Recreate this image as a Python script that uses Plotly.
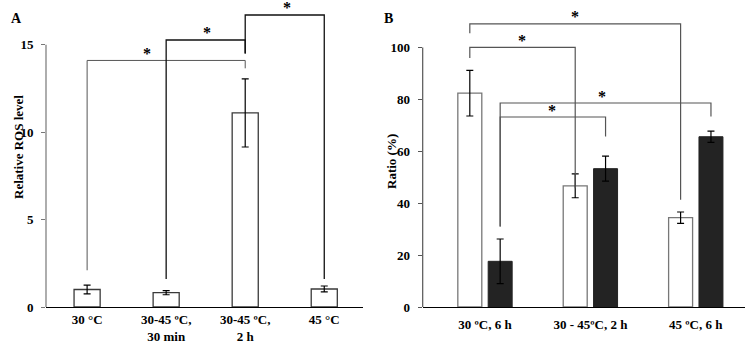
import plotly.graph_objects as go

# ---------------- data ----------------
a_cats = ["30 °C", "30-45 ºC,<br>30 min", "30-45 ºC,<br>2 h", "45 °C"]
a_vals = [1.0, 0.82, 11.1, 1.03]
a_err = [0.25, 0.12, 1.95, 0.17]

b_cats = ["30 ºC, 6 h", "30 - 45ºC, 2 h", "45 ºC, 6 h"]
b_white = [82.4, 46.7, 34.4]
b_white_err = [8.8, 4.6, 2.2]
b_black = [17.6, 53.3, 65.6]
b_black_err = [8.6, 4.8, 2.2]

a_ticks = [0, 5, 10, 15]
b_ticks = [0, 20, 40, 60, 80, 100]

# significance brackets: (left bar, right bar, left leg bottom, right leg bottom, top, star x)
a_brackets = [
    (0, 2, 2.1, 13.65, 14.1, 0.76),
    (1, 2, 1.6, 14.5, 15.27, 1.52),
    (2, 3, 14.5, 1.6, 16.7, 2.53),
]
# for B: bar given as (group, series) with series 0 = white, 1 = black
b_brackets = [
    ((0, 0), (2, 0), 105.5, 41.3, 109.1, 0.854),
    ((0, 0), (1, 0), 95.9, 45.8, 100.0, 0.348),
    ((0, 1), (2, 1), 31.0, 73.4, 78.6, 1.107),
    ((0, 1), (1, 1), 31.0, 65.7, 73.2, 0.639),
]

# ---------------- layout helpers ----------------
W, H = 750, 345
T, B = 1, 38
PLOT_BOTTOM = H - B
PLOT_H = H - T - B

def px(x):
    return x / W

def py(y):
    return (PLOT_BOTTOM - y) / PLOT_H

FONT = "Liberation Serif"
BARGAP = 0.424
GROUPGAP = 0.21
d = (1 - BARGAP) / 4  # offset of each bar from group center

fig = go.Figure()

a_x = list(range(len(a_cats)))
fig.add_trace(go.Bar(
    x=a_x, y=a_vals, width=0.33,
    marker=dict(color="white", line=dict(color="#3a3a3a", width=1.3)),
    error_y=dict(type="data", array=a_err, color="black", thickness=1.2, width=3.5),
    xaxis="x", yaxis="y", showlegend=False,
))

b_x = list(range(len(b_cats)))
fig.add_trace(go.Bar(
    x=b_x, y=b_white, name="white",
    marker=dict(color="white", line=dict(color="#777777", width=1.3)),
    error_y=dict(type="data", array=b_white_err, color="black", thickness=1.2, width=3.5),
    xaxis="x2", yaxis="y2", showlegend=False,
))
fig.add_trace(go.Bar(
    x=b_x, y=b_black, name="black",
    marker=dict(color="#232323", line=dict(color="#232323", width=1)),
    error_y=dict(type="data", array=b_black_err, color="black", thickness=1.2, width=3.5),
    xaxis="x2", yaxis="y2", showlegend=False,
))

shapes = []
annotations = []

def bracket(xref, yref, x0, x1, yb0, yb1, top, color, width):
    return dict(type="path", xref=xref, yref=yref,
                path=f"M {x0},{yb0} L {x0},{top} L {x1},{top} L {x1},{yb1}",
                line=dict(color=color, width=width))

STAR_FONT = dict(family=FONT, size=16, color="black", weight="bold")

a_colors = [("#555555", 1.0), ("#111111", 1.3), ("#111111", 1.3)]
for (i, j, yb0, yb1, top, sx), (c, w) in zip(a_brackets, a_colors):
    shapes.append(bracket("x", "y", a_x[i], a_x[j], yb0, yb1, top, c, w))
    annotations.append(dict(x=sx, y=top, xref="x", yref="y", text="*",
                            showarrow=False, yanchor="middle", yshift=7,
                            font=STAR_FONT))

for (g0, s0), (g1, s1), yb0, yb1, top, sx in b_brackets:
    x0 = b_x[g0] + (d if s0 else -d)
    x1 = b_x[g1] + (d if s1 else -d)
    shapes.append(bracket("x2", "y2", x0, x1, yb0, yb1, top, "#555555", 1.2))
    annotations.append(dict(x=sx, y=top, xref="x2", yref="y2", text="*",
                            showarrow=False, yanchor="middle", yshift=7,
                            font=STAR_FONT))

# partial y-axis lines (stop at the top tick)
shapes.append(dict(type="line", xref="x domain", yref="y", x0=0, x1=0,
                   y0=0, y1=a_ticks[-1], line=dict(color="#777777", width=1.2)))
shapes.append(dict(type="line", xref="x2 domain", yref="y2", x0=0, x1=0,
                   y0=0, y1=b_ticks[-1], line=dict(color="#555555", width=1.2)))

BOLD = dict(family=FONT, color="black", weight="bold")
# panel letters and axis titles
annotations += [
    dict(x=px(8.5), y=py(9), xref="paper", yref="paper", text="A",
         showarrow=False, font=dict(size=14, **BOLD)),
    dict(x=px(388), y=py(9), xref="paper", yref="paper", text="B",
         showarrow=False, font=dict(size=14, **BOLD)),
    dict(x=px(8.5), y=py(147), xref="paper", yref="paper", text="Relative ROS level",
         textangle=-90, showarrow=False, font=dict(size=13, **BOLD)),
    dict(x=px(392), y=py(161), xref="paper", yref="paper", text="Ratio (%)",
         textangle=-90, showarrow=False, font=dict(size=13, **BOLD)),
]

tickfont = dict(size=13, **BOLD)
fig.update_layout(
    width=W, height=H,
    margin=dict(l=0, r=0, t=T, b=B),
    paper_bgcolor="white", plot_bgcolor="white",
    barmode="group", bargap=BARGAP, bargroupgap=GROUPGAP,
    shapes=shapes, annotations=annotations,
    xaxis=dict(domain=[px(46), px(363)], range=[-0.52, 3.49],
               tickvals=a_x, ticktext=a_cats,
               showline=True, linecolor="black", linewidth=1.3, ticks="",
               showgrid=False, zeroline=False, tickfont=tickfont, ticklabelstandoff=0),
    yaxis=dict(range=[0, 17.5], tickvals=a_ticks,
               showline=False, ticks="outside", ticklen=4, tickcolor="#777777",
               showgrid=False, zeroline=False, tickfont=tickfont, ticklabelstandoff=5),
    xaxis2=dict(domain=[px(422.7), px(745)], range=[-0.591, 2.467],
                tickvals=b_x, ticktext=b_cats,
                showline=True, linecolor="black", linewidth=1.3, ticks="",
                showgrid=False, zeroline=False, tickfont=tickfont, ticklabelstandoff=5),
    yaxis2=dict(range=[0, 117.9], tickvals=b_ticks,
                anchor="x2", showline=False, ticks="outside", ticklen=4, tickcolor="#555555",
                showgrid=False, zeroline=False, tickfont=tickfont, ticklabelstandoff=5),
)

# remove the browser's default page margin so the figure sits at (0, 0)
fig.write_html("out.html", config={"displayModeBar": False},
               post_script="document.body.style.margin='0';")
